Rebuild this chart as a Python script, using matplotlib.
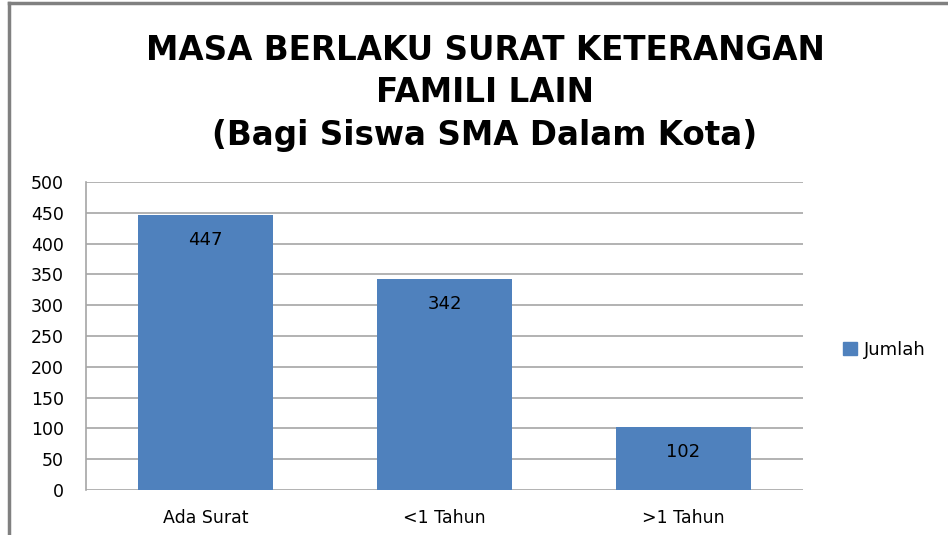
import matplotlib.pyplot as plt
from matplotlib.lines import Line2D
from matplotlib.patches import Patch

# data
categories = ['Ada Surat', '<1 Tahun', '>1 Tahun']
jumlah = [447, 342, 102]
y_ticks = [0, 50, 100, 150, 200, 250, 300, 350, 400, 450, 500]

BAR_COLOR = '#4F81BD'
GRID_COLOR = '#A6A6A6'

fig = plt.figure(figsize=(9.48, 5.35), dpi=100)
ax = fig.add_axes([86 / 948, 45 / 535, 717 / 948, 308 / 535])

x = range(len(categories))
bars = ax.bar(x, jumlah, width=0.565, color=BAR_COLOR, zorder=3, label='Jumlah')

ax.set_xlim(-0.5, len(categories) - 0.5)
ax.set_ylim(0, 500)
ax.set_yticks(y_ticks)
ax.set_xticks(list(x))
ax.set_xticklabels(categories)
ax.tick_params(axis='both', length=0, labelsize=12.5, colors='black')
ax.tick_params(axis='y', pad=16)
ax.tick_params(axis='x', pad=14)
ax.yaxis.grid(True, color=GRID_COLOR, linewidth=1.2, zorder=0)

for side in ['top', 'right', 'bottom']:
    ax.spines[side].set_visible(False)
ax.spines['left'].set_color(GRID_COLOR)
ax.spines['left'].set_linewidth(1.2)

# value labels sitting inside the top of each bar
for rect, val in zip(bars, jumlah):
    ax.annotate(str(val), (rect.get_x() + rect.get_width() / 2, val),
                xytext=(0, -18), textcoords='offset points',
                ha='center', va='center', fontsize=13, zorder=4)

# title, three lines
title_lines = ['MASA BERLAKU SURAT KETERANGAN', 'FAMILI LAIN', '(Bagi Siswa SMA Dalam Kota)']
for i, line in enumerate(title_lines):
    fig.text(485 / 948, 1 - (50 + i * 43) / 535, line, ha='center', va='center',
             fontsize=23.5, fontweight='bold', family='DejaVu Sans')

# legend on the right
handle = Patch(facecolor=BAR_COLOR, edgecolor=BAR_COLOR)
fig.legend([handle], ['Jumlah'], loc='center left', bbox_to_anchor=(827 / 948, 1 - 350 / 535),
           frameon=False, fontsize=13, handlelength=0.75, handleheight=0.75, handletextpad=0.4)

# chart frame, partly cropped in the reference
fig.add_artist(Line2D([9 / 948, 1], [1 - 3 / 535, 1 - 3 / 535], color='#808080', linewidth=2.5))
fig.add_artist(Line2D([9 / 948, 9 / 948], [0, 1 - 3 / 535], color='#808080', linewidth=2.5))

fig.savefig('out.png', dpi=100)
